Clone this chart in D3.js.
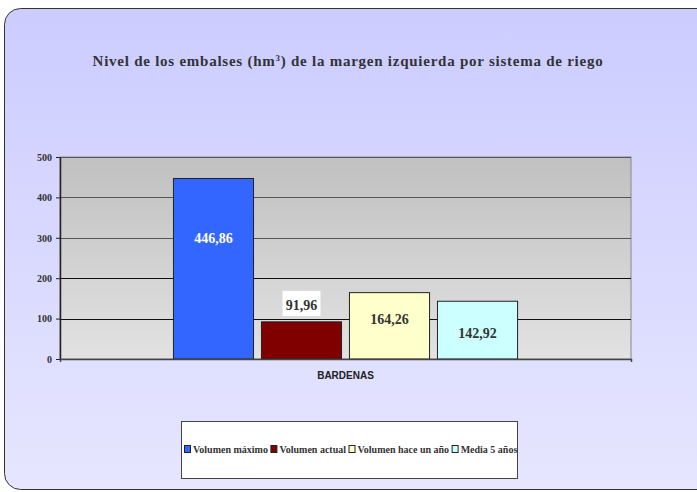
<!DOCTYPE html>
<html>
<head>
<meta charset="utf-8">
<script src="https://cdn.jsdelivr.net/npm/d3@7"></script>
<style>
body { margin: 0; background: #fff; }
</style>
</head>
<body>
<div class="chart"></div>
<script>
// chart data
var categories = ["BARDENAS"];
var seriesNames = ["Volumen máximo", "Volumen actual", "Volumen hace un año", "Media 5 años"];
var seriesValues = [446.86, 91.96, 164.26, 142.92];
var seriesLabels = ["446,86", "91,96", "164,26", "142,92"];
var yTicks = [0, 100, 200, 300, 400, 500];

var colors = ["#3366ff", "#800000", "#ffffcc", "#ccffff"];
var labelColors = ["#ffffff", "#333333", "#333333", "#333333"];
// label offset from bar top (px), as in the original
var labelDy = [60, -17, 26, 32];

var svg_w = 697, svg_h = 492;
var svg = d3.select("div.chart").append("svg")
.attr("width", svg_w)
.attr("height", svg_h);

var defs = svg.append("defs");
var bg = defs.append("linearGradient").attr("id", "bg")
.attr("x1", 0).attr("y1", 0).attr("x2", 0).attr("y2", 1);
bg.append("stop").attr("offset", "0%").attr("stop-color", "#ccccff");
bg.append("stop").attr("offset", "100%").attr("stop-color", "#e6e6ff");

var pg = defs.append("linearGradient").attr("id", "plotbg")
.attr("x1", 0).attr("y1", 0).attr("x2", 0).attr("y2", 1);
pg.append("stop").attr("offset", "0%").attr("stop-color", "#c0c0c0");
pg.append("stop").attr("offset", "100%").attr("stop-color", "#e2e2e2");

// outer frame
svg.append("rect")
.attr("x", 4.5).attr("y", 8.5)
.attr("width", 720).attr("height", 481)
.attr("rx", 16).attr("ry", 16)
.attr("fill", "url(#bg)")
.attr("stroke", "#333")
.attr("stroke-width", 1);

// title
var title = svg.append("text")
.attr("x", 348).attr("y", 66)
.attr("text-anchor", "middle")
.style("font-family", "'Liberation Serif', 'Times New Roman', serif")
.style("font-weight", "bold")
.style("font-size", "15px")
.style("letter-spacing", "0.75px")
.attr("fill", "#333");
title.append("tspan").text("Nivel de los embalses (hm");
title.append("tspan").attr("dy", -5).style("font-size", "9px").text("3");
title.append("tspan").attr("dy", 5).text(") de la margen izquierda por sistema de riego");

// plot area
var plot = { left: 60, right: 631, top: 157, bottom: 359 };

var y = d3.scaleLinear()
.domain([0, 500])
.range([plot.bottom, plot.top]);

var x0 = d3.scaleBand()
.domain(categories)
.range([plot.left, plot.right])
.paddingInner(0)
.paddingOuter(0.311);

var x1 = d3.scaleBand()
.domain(seriesNames)
.range([0, x0.bandwidth()])
.paddingInner(0.09)
.paddingOuter(0.045);

svg.append("rect")
.attr("x", plot.left).attr("y", plot.top)
.attr("width", plot.right - plot.left)
.attr("height", plot.bottom - plot.top)
.attr("fill", "url(#plotbg)")
.attr("stroke", "#888")
.attr("stroke-width", 1);

// gridlines
svg.append("g").selectAll("line")
.data(yTicks.filter(function(d) { return d > 0; }))
.enter()
.append("line")
.attr("x1", plot.left).attr("x2", plot.right)
.attr("y1", function(d) { return Math.round(y(d)) + 0.5; })
.attr("y2", function(d) { return Math.round(y(d)) + 0.5; })
.attr("stroke", function(d) { return d >= 300 ? "#555" : "#111"; })
.attr("stroke-width", 1.2);

// bars
var bars = svg.append("g");
categories.forEach(function(cat) {
	bars.selectAll("rect.bar")
	.data(seriesValues)
	.enter()
	.append("rect")
	.attr("class", "bar")
	.attr("x", function(d, i) { return x0(cat) + x1(seriesNames[i]); })
	.attr("y", function(d) { return y(d); })
	.attr("width", x1.bandwidth())
	.attr("height", function(d) { return y(0) - y(d); })
	.attr("fill", function(d, i) { return colors[i]; })
	.attr("stroke", "#222")
	.attr("stroke-width", 1);

	// white box behind the small label
	seriesValues.forEach(function(v, i) {
		var cx = x0(cat) + x1(seriesNames[i]) + x1.bandwidth() / 2;
		var cy = y(v) + labelDy[i];
		if (labelDy[i] < 0) {
			bars.append("rect")
			.attr("x", cx - 19).attr("y", cy - 14)
			.attr("width", 38).attr("height", 25)
			.attr("fill", "#fff");
		}
		bars.append("text")
		.attr("x", cx).attr("y", cy + 5)
		.attr("text-anchor", "middle")
		.style("font-family", "'Liberation Serif', 'Times New Roman', serif")
		.style("font-weight", "bold")
		.style("font-size", "14px")
		.attr("fill", labelColors[i])
		.text(seriesLabels[i]);
	});
});

// y axis
var yAxis = d3.axisLeft(y)
.tickValues(yTicks)
.tickSize(4)
.tickSizeOuter(0);

var yg = svg.append("g")
.attr("transform", "translate(" + plot.left + ",0)")
.call(yAxis);
yg.select(".domain").attr("stroke", "#222").attr("stroke-width", 1.5);
yg.selectAll(".tick line").attr("stroke", "#222");
yg.selectAll(".tick text")
.attr("x", -8)
.style("font-family", "'Liberation Serif', 'Times New Roman', serif")
.style("font-weight", "bold")
.style("font-size", "10px")
.attr("fill", "#333");

// x axis
var xAxis = d3.axisBottom(x0).tickSize(0).tickSizeOuter(3);
var xg = svg.append("g")
.attr("transform", "translate(0," + plot.bottom + ")")
.call(xAxis);
xg.select(".domain").attr("stroke", "#444").attr("stroke-width", 1.5);
xg.selectAll(".tick text")
.attr("y", 13)
.style("font-family", "'Liberation Sans', Arial, sans-serif")
.style("font-weight", "bold")
.style("font-size", "10px")
.attr("fill", "#222");

// legend
var legend = svg.append("g");
legend.append("rect")
.attr("x", 181.5).attr("y", 421.5)
.attr("width", 336).attr("height", 57)
.attr("fill", "#fff")
.attr("stroke", "#444")
.attr("stroke-width", 1);

var lx = 184;
seriesNames.forEach(function(name, i) {
	legend.append("rect")
	.attr("x", lx + 0.5).attr("y", 445.5)
	.attr("width", 6).attr("height", 7)
	.attr("fill", colors[i])
	.attr("stroke", "#222")
	.attr("stroke-width", 1);
	var t = legend.append("text")
	.attr("x", lx + 9).attr("y", 453)
	.style("font-family", "'Liberation Serif', 'Times New Roman', serif")
	.style("font-weight", "bold")
	.style("font-size", "10px")
	.attr("fill", "#333")
	.text(name);
	lx += 9 + t.node().getComputedTextLength() + 2.5;
});
</script>
</body>
</html>
